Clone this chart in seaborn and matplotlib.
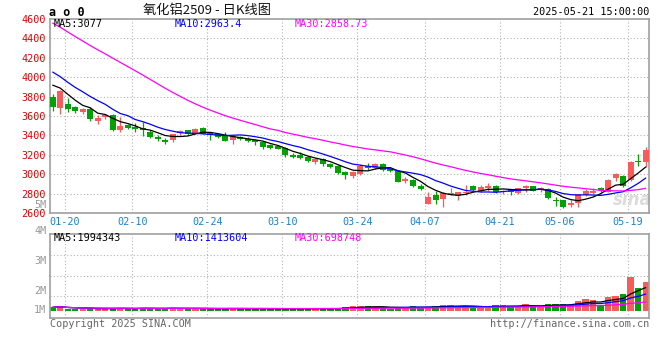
import numpy as np
import pandas as pd
import matplotlib
matplotlib.use('Agg')
import matplotlib.pyplot as plt
import seaborn as sns

# ---------------- data ----------------
opens = [3795, 3683, 3727, 3697, 3640, 3673, 3550, 3587, 3607, 3453,
         3507, 3483, 3473, 3440, 3383, 3352, 3350, 3427, 3457, 3414,
         3476, 3422, 3417, 3407, 3349, 3386, 3363, 3349, 3336, 3298,
         3295, 3270, 3203, 3200, 3183, 3131, 3159, 3107, 3086, 3024,
         2983, 3000, 3083, 3066, 3107, 3055, 3030, 2929, 2942, 2885,
         2698, 2783, 2746, 2793, 2773, 2807, 2881, 2834, 2858, 2881,
         2817, 2847, 2805, 2862, 2876, 2838, 2852, 2741, 2734, 2683,
         2707, 2786, 2810, 2862, 2821, 2959, 2979, 2941, 3141, 3124]
closes = [3695, 3860, 3675, 3650, 3667, 3570, 3583, 3607, 3453, 3497,
          3473, 3463, 3453, 3387, 3363, 3330, 3415, 3450, 3414, 3469,
          3420, 3405, 3386, 3339, 3393, 3366, 3342, 3332, 3278, 3271,
          3264, 3195, 3179, 3165, 3138, 3162, 3110, 3079, 3010, 2990,
          3027, 3086, 3066, 3110, 3048, 3034, 2924, 2953, 2885, 2847,
          2766, 2732, 2807, 2807, 2814, 2817, 2841, 2875, 2885, 2817,
          2834, 2814, 2856, 2876, 2831, 2855, 2755, 2724, 2665, 2707,
          2796, 2834, 2834, 2838, 2941, 3000, 2879, 3124, 3124, 3252]
highs = [3823, 3870, 3783, 3700, 3683, 3697, 3607, 3623, 3623, 3590,
         3520, 3523, 3540, 3457, 3400, 3373, 3420, 3460, 3460, 3472,
         3486, 3429, 3427, 3434, 3400, 3393, 3386, 3363, 3339, 3312,
         3305, 3282, 3217, 3228, 3193, 3172, 3169, 3117, 3093, 3031,
         3034, 3103, 3117, 3117, 3117, 3062, 3041, 2976, 2953, 2902,
         2820, 2834, 2814, 2861, 2820, 2892, 2895, 2892, 2908, 2888,
         2841, 2854, 2862, 2890, 2883, 2866, 2862, 2769, 2741, 2734,
         2803, 2845, 2862, 2872, 2948, 3010, 2997, 3138, 3210, 3286]
lows = [3655, 3625, 3640, 3630, 3620, 3553, 3520, 3570, 3447, 3433,
        3463, 3440, 3393, 3373, 3340, 3308, 3333, 3400, 3405, 3410,
        3413, 3350, 3369, 3339, 3315, 3353, 3332, 3302, 3264, 3261,
        3261, 3176, 3172, 3155, 3131, 3110, 3090, 3069, 3000, 2955,
        2966, 2993, 3048, 3055, 3038, 3020, 2917, 2908, 2875, 2841,
        2692, 2695, 2661, 2783, 2736, 2793, 2824, 2824, 2831, 2810,
        2797, 2786, 2797, 2821, 2828, 2814, 2748, 2679, 2655, 2665,
        2665, 2779, 2803, 2817, 2814, 2934, 2872, 2928, 3090, 3079]
volumes = [300000, 380000, 200000, 190000, 180000, 200000, 190000, 180000, 200000, 260000,
           200000, 190000, 280000, 200000, 190000, 200000, 270000, 200000, 190000, 200000,
           190000, 200000, 190000, 200000, 210000, 190000, 200000, 190000, 200000, 190000,
           180000, 200000, 190000, 200000, 190000, 210000, 190000, 200000, 210000, 300000,
           380000, 385000, 380000, 300000, 300000, 200000, 300000, 300000, 380000, 300000,
           300000, 385000, 470000, 470000, 385000, 385000, 300000, 300000, 300000, 470000,
           470000, 385000, 385000, 550000, 385000, 385000, 550000, 550000, 550000, 520000,
           800000, 960000, 880000, 520000, 1120000, 1230000, 1370000, 2760000, 1860000, 2380000]
# closes of the 29 sessions before the first visible candle (estimated from the MA lines)
prior_close = [5150, 5120, 5080, 5040, 4960, 4900, 4850, 4800, 4780, 4770,
               4760, 4770, 4750, 4730, 4700, 4690, 4660, 4620, 4560, 4450,
               4330, 4250, 4180, 4120, 4050, 4010, 3990, 3960, 3930]
tick_pos = [2, 11, 21, 31, 41, 50, 60, 68, 77]
tick_labels = ['01-20', '02-10', '02-24', '03-10', '03-24', '04-07', '04-21', '05-06', '05-19']
price_ticks = [2600, 2800, 3000, 3200, 3400, 3600, 3800, 4000, 4200, 4400, 4600]
vol_labels = ['5M', '4M', '3M', '2M', '1M']

title = '氧化铝2509 - 日K线图'
price_ma_text = ['MA5:3077', 'MA10:2963.4', 'MA30:2858.73']
vol_ma_text = ['MA5:1994343', 'MA10:1413604', 'MA30:698748']

# ---------------- style ----------------
sns.set_theme(style='white')
plt.rcParams['font.family'] = ['DejaVu Sans Mono', 'Noto Sans CJK SC']

RED = '#f65c5c'
GREEN = '#05a005'
GRID = '#b4b4b4'
SPINE = '#a0a0a0'
GRAY = '#999999'
BLUE_T = '#1a80d0'
MA_COLORS = {'MA5': '#000000', 'MA10': '#0000ff', 'MA30': '#ff00ff'}
FS = 7.3

W, H = 660, 360
fig = plt.figure(figsize=(W / 100, H / 100), dpi=100)
fig.patch.set_facecolor('white')
axp = fig.add_axes([50 / W, 1 - 213.3 / H, 599 / W, 194.6 / H])
axv = fig.add_axes([50 / W, 1 - 318.3 / H, 599 / W, 84 / H])

n = len(closes)
x = np.arange(n)
o = np.array(opens, float)
c = np.array(closes, float)
hi = np.array(highs, float)
lo = np.array(lows, float)
vol = np.array(volumes, float)
colors = np.where(c >= o, RED, GREEN)

xlim = (-0.36, n - 1 + 0.44)

# ---------------- price panel ----------------
for lvl in price_ticks[1:-1]:
    axp.axhline(lvl, color=GRID, lw=0.8, ls=(0, (1, 2)), zorder=0)
for p in tick_pos:
    axp.axvline(p - 0.4, color=GRID, lw=0.8, ls=(0, (1, 2)), zorder=0)

axp.text(0.972, 0.07, 'sina', transform=axp.transAxes, ha='center', va='center',
         fontsize=12, color='#dcdcdc', style='italic', weight='bold',
         family='DejaVu Sans', zorder=0.5)

axp.vlines(x, lo, hi, colors=colors, lw=0.9, zorder=2)
body_b = np.minimum(o, c)
body_h = np.maximum(np.abs(c - o), 5)
axp.bar(x, body_h, bottom=body_b, width=0.8, color=colors, linewidth=0, zorder=3)

allc = pd.Series(prior_close + closes, dtype=float)
k = len(prior_close)
ma_df = pd.DataFrame({
    'x': x,
    'MA5': allc.rolling(5).mean().iloc[k:].values,
    'MA10': allc.rolling(10).mean().iloc[k:].values,
    'MA30': allc.rolling(30).mean().iloc[k:].values,
}).melt(id_vars='x', var_name='ma', value_name='val')
sns.lineplot(data=ma_df, x='x', y='val', hue='ma', palette=MA_COLORS, ax=axp,
             legend=False, lw=0.9, zorder=4)

axp.set_xlim(*xlim)
axp.set_ylim(2600, 4600)
axp.set_yticks(price_ticks)
axp.set_yticklabels([str(t) for t in price_ticks], color='#e00000', fontsize=FS)
axp.set_xticks([p - 0.4 for p in tick_pos])
axp.set_xticklabels(tick_labels, color=BLUE_T, fontsize=FS)
axp.tick_params(axis='both', length=0)
axp.tick_params(axis='y', pad=3)
axp.tick_params(axis='x', pad=2.5)
axp.set_xlabel('')
axp.set_ylabel('')

for i, (t, col) in enumerate(zip(price_ma_text, MA_COLORS.values())):
    axp.text([0.0067, 0.2075, 0.408][i], 0.973, t, transform=axp.transAxes,
             color=col, fontsize=FS, va='center', ha='left', zorder=6)

# ---------------- volume panel ----------------
px_per = 82000.0
vmin, vmax = -7.3 * px_per, 76.7 * px_per
axv.set_ylim(vmin, vmax)
axv.set_xlim(*xlim)
for frac in [0.7536, 0.507, 0.269]:
    axv.axhline(vmin + frac * (vmax - vmin), color=GRID, lw=0.8, ls=(0, (1, 2)), zorder=0)
for p in tick_pos:
    axv.axvline(p - 0.4, color=GRID, lw=0.8, ls=(0, (1, 2)), zorder=0)

axv.bar(x, vol, width=0.85, color=colors, linewidth=0, zorder=2)
vs = pd.Series(vol)
vma_df = pd.DataFrame({
    'x': x,
    'MA5': vs.rolling(5, min_periods=1).mean().values,
    'MA10': vs.rolling(10, min_periods=1).mean().values,
    'MA30': vs.rolling(30, min_periods=1).mean().values,
}).melt(id_vars='x', var_name='ma', value_name='val')
sns.lineplot(data=vma_df, x='x', y='val', hue='ma', palette=MA_COLORS, ax=axv,
             legend=False, lw=0.9, zorder=4)
axv.set_xticks([])
axv.set_yticks([])
axv.set_xlabel('')
axv.set_ylabel('')

for lab, fy in zip(vol_labels, [1.352, 1.043, 0.683, 0.329, 0.099]):
    axv.text(-0.006, fy, lab, transform=axv.transAxes, ha='right', va='center',
             color=GRAY, fontsize=FS, clip_on=False)

for i, (t, col) in enumerate(zip(vol_ma_text, MA_COLORS.values())):
    axv.text([0.0067, 0.2075, 0.408][i], 0.952, t, transform=axv.transAxes,
             color=col, fontsize=FS, va='center', ha='left', zorder=6)

for ax in (axp, axv):
    for s in ax.spines.values():
        s.set_color(SPINE)
        s.set_linewidth(1.2)
        s.set_visible(True)
    ax.set_facecolor('white')

# ---------------- header / footer ----------------
fig.text(49 / W, 1 - 12.5 / H, 'a o 0', fontsize=8.5, weight='bold', color='#000000',
         va='center', ha='left')
fig.text(207 / W, 1 - 10.5 / H, title, fontsize=9.5, color='#111111', va='center',
         ha='center', family=['Noto Sans CJK SC', 'DejaVu Sans'])
fig.text(649 / W, 1 - 12 / H, '2025-05-21 15:00:00', fontsize=FS, color='#000000',
         va='center', ha='right')
fig.text(50 / W, 1 - 324 / H, 'Copyright 2025 SINA.COM', fontsize=FS, color='#666666',
         va='center', ha='left')
fig.text(649 / W, 1 - 324 / H, 'http://finance.sina.com.cn', fontsize=FS, color='#666666',
         va='center', ha='right')

fig.savefig('out.png', dpi=100, facecolor='white')
